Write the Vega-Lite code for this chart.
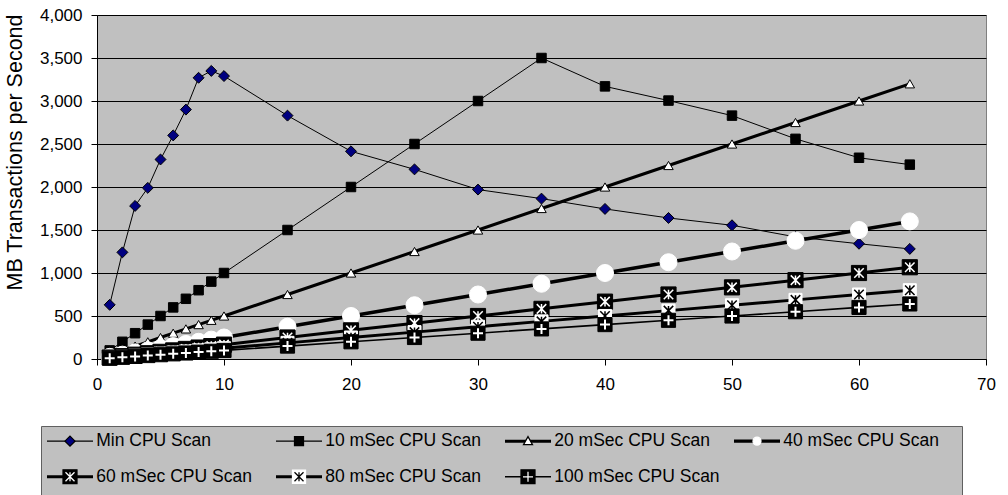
{
  "$schema": "https://vega.github.io/schema/vega-lite/v6.json",
  "width": 889,
  "height": 344,
  "autosize": {"type": "none"},
  "padding": {"left": 97, "top": 15, "right": 22, "bottom": 136},
  "background": "#ffffff",
  "config": {
    "font": "Liberation Sans",
    "view": {"fill": "#C0C0C0", "stroke": "#808080", "strokeWidth": 1}
  },
  "data": {"values": [
    {"series":"Min CPU Scan","x":1,"value":630},{"series":"Min CPU Scan","x":2,"value":1240},{"series":"Min CPU Scan","x":3,"value":1780},{"series":"Min CPU Scan","x":4,"value":1990},{"series":"Min CPU Scan","x":5,"value":2320},{"series":"Min CPU Scan","x":6,"value":2600},{"series":"Min CPU Scan","x":7,"value":2900},{"series":"Min CPU Scan","x":8,"value":3270},{"series":"Min CPU Scan","x":9,"value":3350},{"series":"Min CPU Scan","x":10,"value":3290},{"series":"Min CPU Scan","x":15,"value":2830},{"series":"Min CPU Scan","x":20,"value":2415},{"series":"Min CPU Scan","x":25,"value":2205},{"series":"Min CPU Scan","x":30,"value":1970},{"series":"Min CPU Scan","x":35,"value":1865},{"series":"Min CPU Scan","x":40,"value":1745},{"series":"Min CPU Scan","x":45,"value":1640},{"series":"Min CPU Scan","x":50,"value":1555},{"series":"Min CPU Scan","x":55,"value":1420},{"series":"Min CPU Scan","x":60,"value":1340},{"series":"Min CPU Scan","x":64,"value":1280},
    {"series":"10 mSec CPU Scan","x":1,"value":100},{"series":"10 mSec CPU Scan","x":2,"value":200},{"series":"10 mSec CPU Scan","x":3,"value":300},{"series":"10 mSec CPU Scan","x":4,"value":400},{"series":"10 mSec CPU Scan","x":5,"value":500},{"series":"10 mSec CPU Scan","x":6,"value":600},{"series":"10 mSec CPU Scan","x":7,"value":700},{"series":"10 mSec CPU Scan","x":8,"value":800},{"series":"10 mSec CPU Scan","x":9,"value":900},{"series":"10 mSec CPU Scan","x":10,"value":1000},{"series":"10 mSec CPU Scan","x":15,"value":1500},{"series":"10 mSec CPU Scan","x":20,"value":2000},{"series":"10 mSec CPU Scan","x":25,"value":2500},{"series":"10 mSec CPU Scan","x":30,"value":3000},{"series":"10 mSec CPU Scan","x":35,"value":3500},{"series":"10 mSec CPU Scan","x":40,"value":3170},{"series":"10 mSec CPU Scan","x":45,"value":3005},{"series":"10 mSec CPU Scan","x":50,"value":2830},{"series":"10 mSec CPU Scan","x":55,"value":2560},{"series":"10 mSec CPU Scan","x":60,"value":2340},{"series":"10 mSec CPU Scan","x":64,"value":2260},
    {"series":"20 mSec CPU Scan","x":1,"value":50},{"series":"20 mSec CPU Scan","x":2,"value":100},{"series":"20 mSec CPU Scan","x":3,"value":150},{"series":"20 mSec CPU Scan","x":4,"value":200},{"series":"20 mSec CPU Scan","x":5,"value":250},{"series":"20 mSec CPU Scan","x":6,"value":300},{"series":"20 mSec CPU Scan","x":7,"value":350},{"series":"20 mSec CPU Scan","x":8,"value":400},{"series":"20 mSec CPU Scan","x":9,"value":450},{"series":"20 mSec CPU Scan","x":10,"value":500},{"series":"20 mSec CPU Scan","x":15,"value":750},{"series":"20 mSec CPU Scan","x":20,"value":1000},{"series":"20 mSec CPU Scan","x":25,"value":1250},{"series":"20 mSec CPU Scan","x":30,"value":1500},{"series":"20 mSec CPU Scan","x":35,"value":1750},{"series":"20 mSec CPU Scan","x":40,"value":2000},{"series":"20 mSec CPU Scan","x":45,"value":2250},{"series":"20 mSec CPU Scan","x":50,"value":2500},{"series":"20 mSec CPU Scan","x":55,"value":2750},{"series":"20 mSec CPU Scan","x":60,"value":3000},{"series":"20 mSec CPU Scan","x":64,"value":3200},
    {"series":"40 mSec CPU Scan","x":1,"value":25},{"series":"40 mSec CPU Scan","x":2,"value":50},{"series":"40 mSec CPU Scan","x":3,"value":75},{"series":"40 mSec CPU Scan","x":4,"value":100},{"series":"40 mSec CPU Scan","x":5,"value":125},{"series":"40 mSec CPU Scan","x":6,"value":150},{"series":"40 mSec CPU Scan","x":7,"value":175},{"series":"40 mSec CPU Scan","x":8,"value":200},{"series":"40 mSec CPU Scan","x":9,"value":225},{"series":"40 mSec CPU Scan","x":10,"value":250},{"series":"40 mSec CPU Scan","x":15,"value":375},{"series":"40 mSec CPU Scan","x":20,"value":500},{"series":"40 mSec CPU Scan","x":25,"value":625},{"series":"40 mSec CPU Scan","x":30,"value":750},{"series":"40 mSec CPU Scan","x":35,"value":875},{"series":"40 mSec CPU Scan","x":40,"value":1000},{"series":"40 mSec CPU Scan","x":45,"value":1125},{"series":"40 mSec CPU Scan","x":50,"value":1250},{"series":"40 mSec CPU Scan","x":55,"value":1375},{"series":"40 mSec CPU Scan","x":60,"value":1500},{"series":"40 mSec CPU Scan","x":64,"value":1600},
    {"series":"60 mSec CPU Scan","x":1,"value":17},{"series":"60 mSec CPU Scan","x":2,"value":33},{"series":"60 mSec CPU Scan","x":3,"value":50},{"series":"60 mSec CPU Scan","x":4,"value":67},{"series":"60 mSec CPU Scan","x":5,"value":83},{"series":"60 mSec CPU Scan","x":6,"value":100},{"series":"60 mSec CPU Scan","x":7,"value":117},{"series":"60 mSec CPU Scan","x":8,"value":133},{"series":"60 mSec CPU Scan","x":9,"value":150},{"series":"60 mSec CPU Scan","x":10,"value":167},{"series":"60 mSec CPU Scan","x":15,"value":250},{"series":"60 mSec CPU Scan","x":20,"value":333},{"series":"60 mSec CPU Scan","x":25,"value":417},{"series":"60 mSec CPU Scan","x":30,"value":500},{"series":"60 mSec CPU Scan","x":35,"value":583},{"series":"60 mSec CPU Scan","x":40,"value":667},{"series":"60 mSec CPU Scan","x":45,"value":750},{"series":"60 mSec CPU Scan","x":50,"value":833},{"series":"60 mSec CPU Scan","x":55,"value":917},{"series":"60 mSec CPU Scan","x":60,"value":1000},{"series":"60 mSec CPU Scan","x":64,"value":1067},
    {"series":"80 mSec CPU Scan","x":1,"value":12.5},{"series":"80 mSec CPU Scan","x":2,"value":25},{"series":"80 mSec CPU Scan","x":3,"value":37.5},{"series":"80 mSec CPU Scan","x":4,"value":50},{"series":"80 mSec CPU Scan","x":5,"value":62.5},{"series":"80 mSec CPU Scan","x":6,"value":75},{"series":"80 mSec CPU Scan","x":7,"value":87.5},{"series":"80 mSec CPU Scan","x":8,"value":100},{"series":"80 mSec CPU Scan","x":9,"value":112.5},{"series":"80 mSec CPU Scan","x":10,"value":125},{"series":"80 mSec CPU Scan","x":15,"value":187.5},{"series":"80 mSec CPU Scan","x":20,"value":250},{"series":"80 mSec CPU Scan","x":25,"value":312.5},{"series":"80 mSec CPU Scan","x":30,"value":375},{"series":"80 mSec CPU Scan","x":35,"value":437.5},{"series":"80 mSec CPU Scan","x":40,"value":500},{"series":"80 mSec CPU Scan","x":45,"value":562.5},{"series":"80 mSec CPU Scan","x":50,"value":625},{"series":"80 mSec CPU Scan","x":55,"value":687.5},{"series":"80 mSec CPU Scan","x":60,"value":750},{"series":"80 mSec CPU Scan","x":64,"value":800},
    {"series":"100 mSec CPU Scan","x":1,"value":10},{"series":"100 mSec CPU Scan","x":2,"value":20},{"series":"100 mSec CPU Scan","x":3,"value":30},{"series":"100 mSec CPU Scan","x":4,"value":40},{"series":"100 mSec CPU Scan","x":5,"value":50},{"series":"100 mSec CPU Scan","x":6,"value":60},{"series":"100 mSec CPU Scan","x":7,"value":70},{"series":"100 mSec CPU Scan","x":8,"value":80},{"series":"100 mSec CPU Scan","x":9,"value":90},{"series":"100 mSec CPU Scan","x":10,"value":100},{"series":"100 mSec CPU Scan","x":15,"value":150},{"series":"100 mSec CPU Scan","x":20,"value":200},{"series":"100 mSec CPU Scan","x":25,"value":250},{"series":"100 mSec CPU Scan","x":30,"value":300},{"series":"100 mSec CPU Scan","x":35,"value":350},{"series":"100 mSec CPU Scan","x":40,"value":400},{"series":"100 mSec CPU Scan","x":45,"value":450},{"series":"100 mSec CPU Scan","x":50,"value":500},{"series":"100 mSec CPU Scan","x":55,"value":550},{"series":"100 mSec CPU Scan","x":60,"value":600},{"series":"100 mSec CPU Scan","x":64,"value":640}
  ]},
  "encoding": {
    "x": {"field": "x", "type": "quantitative",
      "scale": {"domain": [0, 70], "nice": false, "zero": false},
      "axis": {"title": null, "values": [0,10,20,30,40,50,60,70], "format": "d", "grid": false, "tickSize": 6, "tickColor": "#000000", "domainColor": "#000000", "labelFont": "Liberation Sans", "labelFontSize": 17, "labelColor": "#000000", "labelPadding": 11, "labelFlush": false}},
    "y": {"field": "value", "type": "quantitative",
      "scale": {"domain": [0, 4000], "nice": false},
      "axis": {"title": "MB Transactions per Second", "values": [0,500,1000,1500,2000,2500,3000,3500,4000], "format": ",d", "grid": true, "gridColor": "#000000", "gridWidth": 1, "gridOpacity": 1, "tickSize": 6, "tickColor": "#000000", "domainColor": "#000000", "labelFont": "Liberation Sans", "labelFontSize": 17, "labelColor": "#000000", "labelPadding": 9, "titleFont": "Liberation Sans", "titleFontSize": 21.5, "titleFontWeight": "normal", "titleColor": "#000000", "titlePadding": 13, "titleY": 137}}
  },
  "layer": [
    {"mark": {"type": "line", "color": "#000000"},
     "encoding": {
       "detail": {"field": "series", "type": "nominal"},
       "strokeWidth": {"field": "series", "type": "nominal", "scale": {"type": "ordinal", "domain": ["Min CPU Scan","10 mSec CPU Scan","20 mSec CPU Scan","40 mSec CPU Scan","60 mSec CPU Scan","80 mSec CPU Scan","100 mSec CPU Scan"], "range": [1, 1, 3, 3.5, 3, 3, 1.6]}, "legend": null}
     }},
    {"transform": [{"filter": "datum.series === 'Min CPU Scan'"}],
     "mark": {"type": "point", "shape": "diamond", "filled": true, "fill": "#000080", "stroke": "#000000", "strokeWidth": 1, "size": 120, "opacity": 1}},
    {"transform": [{"filter": "datum.series === '10 mSec CPU Scan'"}],
     "mark": {"type": "point", "shape": "square", "filled": true, "fill": "#000000", "stroke": "#000000", "strokeWidth": 1, "size": 90, "opacity": 1}},
    {"transform": [{"filter": "datum.series === '20 mSec CPU Scan'"}],
     "mark": {"type": "point", "shape": "triangle-up", "filled": true, "fill": "#ffffff", "stroke": "#000000", "strokeWidth": 1, "size": 90, "opacity": 1}},
    {"transform": [{"filter": "datum.series === '40 mSec CPU Scan'"}],
     "mark": {"type": "point", "shape": "circle", "filled": true, "fill": "#ffffff", "stroke": "#ffffff", "strokeWidth": 1, "size": 290, "opacity": 1}},
    {"transform": [{"filter": "datum.series === '60 mSec CPU Scan'"}],
     "mark": {"type": "point", "shape": "square", "filled": true, "fill": "#000000", "stroke": "#000000", "strokeWidth": 1, "size": 230, "opacity": 1}},
    {"transform": [{"filter": "datum.series === '60 mSec CPU Scan'"}],
     "mark": {"type": "point", "shape": "M-1,-1L1,1M1,-1L-1,1M0,-1L0,1", "filled": false, "color": "#ffffff", "strokeWidth": 1.5, "size": 90, "opacity": 1}},
    {"transform": [{"filter": "datum.series === '80 mSec CPU Scan'"}],
     "mark": {"type": "point", "shape": "square", "filled": true, "fill": "#ffffff", "stroke": "#ffffff", "strokeWidth": 1, "size": 170, "opacity": 1}},
    {"transform": [{"filter": "datum.series === '80 mSec CPU Scan'"}],
     "mark": {"type": "point", "shape": "M-1,-1L1,1M1,-1L-1,1M0,-1L0,1", "filled": false, "color": "#000000", "strokeWidth": 1.5, "size": 90, "opacity": 1}},
    {"transform": [{"filter": "datum.series === '100 mSec CPU Scan'"}],
     "mark": {"type": "point", "shape": "square", "filled": true, "fill": "#000000", "stroke": "#000000", "strokeWidth": 1, "size": 200, "opacity": 1}},
    {"transform": [{"filter": "datum.series === '100 mSec CPU Scan'"}],
     "mark": {"type": "point", "shape": "M-1,0L1,0M0,-1L0,1", "filled": false, "color": "#ffffff", "strokeWidth": 2, "size": 100, "opacity": 1}},
    {"transform": [{"filter": "false"}],
     "mark": {"type": "point", "filled": true, "fill": "#000000", "stroke": "#000000", "strokeWidth": 1.25, "opacity": 1},
     "encoding": {
       "shape": {"field": "series", "type": "nominal",
         "scale": {"domain": ["Min CPU Scan","10 mSec CPU Scan","20 mSec CPU Scan","40 mSec CPU Scan","60 mSec CPU Scan","80 mSec CPU Scan","100 mSec CPU Scan"],
           "range": ["M-3.067,-0.08L3.067,-0.08L3.067,0.08L-3.067,0.08ZM-3.067,-1.3333M26.133,1.3333","M-3.067,-0.08L3.067,-0.08L3.067,0.08L-3.067,0.08ZM-3.067,-1.3333M26.133,1.3333","M-3.067,-0.2L3.067,-0.2L3.067,0.2L-3.067,0.2ZM-3.067,-1.3333M26.133,1.3333","M-3.067,-0.233L3.067,-0.233L3.067,0.233L-3.067,0.233ZM-3.067,-1.3333M26.133,1.3333","M-3.067,-0.2L3.067,-0.2L3.067,0.2L-3.067,0.2ZM-3.067,-1.3333M26.133,1.3333","M-3.067,-0.2L3.067,-0.2L3.067,0.2L-3.067,0.2ZM-3.067,-1.3333M26.133,1.3333","M-3.067,-0.107L3.067,-0.107L3.067,0.107L-3.067,0.107ZM-3.067,-1.3333M26.133,1.3333"]},
         "legend": {"title": null, "orient": "none", "direction": "horizontal", "legendX": -56, "legendY": 411, "columns": 4, "gridAlign": "all", "columnPadding": 4, "rowPadding": 10, "padding": 6, "symbolSize": 225, "symbolOffset": 14.25, "symbolStrokeWidth": 1.25, "symbolStrokeColor": "#000000", "symbolFillColor": "#000000", "labelFont": "Liberation Sans", "labelFontSize": 17.5, "labelColor": "#000000", "labelOffset": 17.5, "labelLimit": 400, "fillColor": "#C0C0C0", "strokeColor": "#606060"}}
     }},
    {"transform": [{"filter": "false"}],
     "mark": {"type": "point", "filled": true, "strokeWidth": 1.25, "opacity": 1},
     "encoding": {
       "shape": {"field": "series", "type": "nominal",
         "scale": {"domain": ["Min CPU Scan","10 mSec CPU Scan","20 mSec CPU Scan","40 mSec CPU Scan","60 mSec CPU Scan","80 mSec CPU Scan","100 mSec CPU Scan"],
           "range": ["M-0.667,0L0,-0.667L0.667,0L0,0.667ZM-3.067,-1.3333M26.133,1.3333","M-0.6,-0.6L0.6,-0.6L0.6,0.6L-0.6,0.6ZM-3.067,-1.3333M26.133,1.3333","M0,-0.6L0.6,0.48L-0.6,0.48ZM-3.067,-1.3333M26.133,1.3333","M-0.533,0A0.533,0.533,0,1,1,0.533,0A0.533,0.533,0,1,1,-0.533,0ZM-3.067,-1.3333M26.133,1.3333","M-0.933,-0.933L0.933,-0.933L0.933,0.933L-0.933,0.933ZM-3.067,-1.3333M26.133,1.3333","M-0.867,-0.867L0.867,-0.867L0.867,0.867L-0.867,0.867ZM-3.067,-1.3333M26.133,1.3333","M-0.933,-0.933L0.933,-0.933L0.933,0.933L-0.933,0.933ZM-3.067,-1.3333M26.133,1.3333"]},
         "legend": {"title": null, "orient": "none", "direction": "horizontal", "legendX": -56, "legendY": 411, "columns": 4, "gridAlign": "all", "columnPadding": 4, "rowPadding": 10, "padding": 6, "symbolSize": 225, "symbolOffset": 14.25, "symbolStrokeWidth": 1.25, "symbolFillColor": "#000000", "symbolStrokeColor": "#000000", "labelFont": "Liberation Sans", "labelFontSize": 17.5, "labelExpr": "''", "labelOffset": 17.5, "labelLimit": 400}},
       "fill": {"field": "series", "type": "nominal",
         "scale": {"domain": ["Min CPU Scan","10 mSec CPU Scan","20 mSec CPU Scan","40 mSec CPU Scan","60 mSec CPU Scan","80 mSec CPU Scan","100 mSec CPU Scan"],
           "range": ["#000080","#000000","#ffffff","#ffffff","#000000","#ffffff","#000000"]},
         "legend": {"title": null, "orient": "none", "direction": "horizontal", "legendX": -56, "legendY": 411, "columns": 4, "gridAlign": "all", "columnPadding": 4, "rowPadding": 10, "padding": 6, "symbolSize": 225, "symbolOffset": 14.25, "symbolStrokeWidth": 1.25, "symbolFillColor": "#000000", "symbolStrokeColor": "#000000", "labelFont": "Liberation Sans", "labelFontSize": 17.5, "labelExpr": "''", "labelOffset": 17.5, "labelLimit": 400}},
       "stroke": {"field": "series", "type": "nominal",
         "scale": {"domain": ["Min CPU Scan","10 mSec CPU Scan","20 mSec CPU Scan","40 mSec CPU Scan","60 mSec CPU Scan","80 mSec CPU Scan","100 mSec CPU Scan"],
           "range": ["#000000","#000000","#000000","#ffffff","#000000","#ffffff","#000000"]},
         "legend": {"title": null, "orient": "none", "direction": "horizontal", "legendX": -56, "legendY": 411, "columns": 4, "gridAlign": "all", "columnPadding": 4, "rowPadding": 10, "padding": 6, "symbolSize": 225, "symbolOffset": 14.25, "symbolStrokeWidth": 1.25, "symbolFillColor": "#000000", "symbolStrokeColor": "#000000", "labelFont": "Liberation Sans", "labelFontSize": 17.5, "labelExpr": "''", "labelOffset": 17.5, "labelLimit": 400}}
     }},
    {"transform": [{"filter": "false"}],
     "mark": {"type": "point", "filled": false, "strokeWidth": 1.25, "opacity": 1},
     "encoding": {
       "shape": {"field": "series", "type": "nominal",
         "scale": {"domain": ["Min CPU Scan","10 mSec CPU Scan","20 mSec CPU Scan","40 mSec CPU Scan","60 mSec CPU Scan","80 mSec CPU Scan","100 mSec CPU Scan"],
           "range": ["M0,0M-3.067,-1.3333M26.133,1.3333","M0,0M-3.067,-1.3333M26.133,1.3333","M0,0M-3.067,-1.3333M26.133,1.3333","M0,0M-3.067,-1.3333M26.133,1.3333","M-0.6,-0.6L0.6,0.6M0.6,-0.6L-0.6,0.6M0,-0.6L0,0.6M-3.067,-1.3333M26.133,1.3333","M-0.6,-0.6L0.6,0.6M0.6,-0.6L-0.6,0.6M0,-0.6L0,0.6M-3.067,-1.3333M26.133,1.3333","M-0.667,0L0.667,0M0,-0.667L0,0.667M-3.067,-1.3333M26.133,1.3333"]},
         "legend": {"title": null, "orient": "none", "direction": "horizontal", "legendX": -56, "legendY": 411, "columns": 4, "gridAlign": "all", "columnPadding": 4, "rowPadding": 10, "padding": 6, "symbolSize": 225, "symbolOffset": 14.25, "symbolStrokeWidth": 1.25, "symbolFillColor": "transparent", "symbolStrokeColor": "#000000", "labelFont": "Liberation Sans", "labelFontSize": 17.5, "labelExpr": "''", "labelOffset": 17.5, "labelLimit": 400}},
       "stroke": {"field": "series", "type": "nominal",
         "scale": {"domain": ["Min CPU Scan","10 mSec CPU Scan","20 mSec CPU Scan","40 mSec CPU Scan","60 mSec CPU Scan","80 mSec CPU Scan","100 mSec CPU Scan"],
           "range": ["#000000","#000000","#000000","#000000","#ffffff","#000000","#ffffff"]},
         "legend": {"title": null, "orient": "none", "direction": "horizontal", "legendX": -56, "legendY": 411, "columns": 4, "gridAlign": "all", "columnPadding": 4, "rowPadding": 10, "padding": 6, "symbolSize": 225, "symbolOffset": 14.25, "symbolStrokeWidth": 1.25, "symbolFillColor": "transparent", "symbolStrokeColor": "#000000", "labelFont": "Liberation Sans", "labelFontSize": 17.5, "labelExpr": "''", "labelOffset": 17.5, "labelLimit": 400}}
     }}
  ],
  "resolve": {"scale": {"shape": "independent", "fill": "independent", "stroke": "independent"}}
}
